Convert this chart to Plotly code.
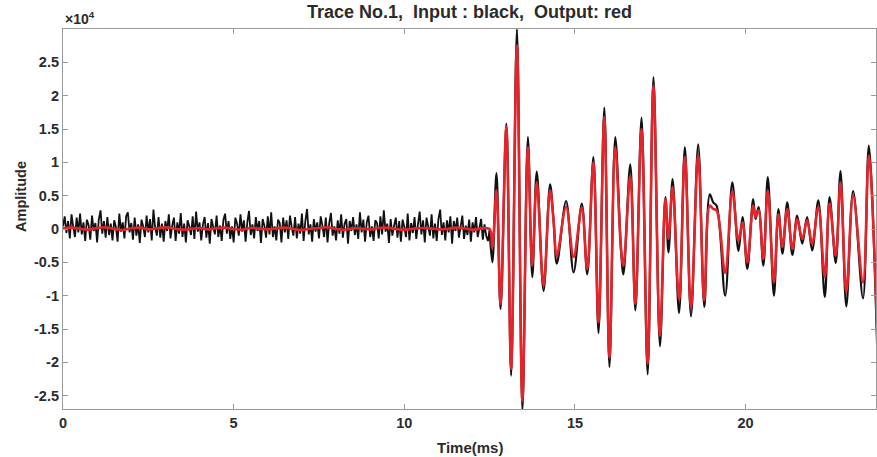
import plotly.graph_objects as go

# ---------------- data ----------------
# pre-onset sampling of the input (black) trace
noise_t0 = 0.0
noise_dt = 0.05
input_noise = [
    400, 1900, -600, 1200, -1400, 2200, 300, -1200, 1700, -500,
    2300, -800, 1000, -1800, 1400, 600, -1600, 2000, -300, 900,
    -2000, 1500, 2800, -700, 1200, -1300, 1800, -900, 800, -1700,
    1300, 300, -1900, 2300, -400, 1000, -1400, 1900, 2500, -500,
    900, -1600, 1700, -1000, 700, -2100, 1400, 400, -1200, 2000,
    -500, 1500, -1700, 2900, 200, -1000, 1800, -1300, 800, -1900,
    1200, -300, 2200, -1400, 500, 1700, -1800, 1000, -700, 2400,
    -1200, 800, -2000, 1300, 400, -900, 1900, -1500, 2600, -400,
    1000, -1700, 700, 1800, -1300, 900, -2200, 1500, 300, -800,
    2000, -1200, 500, -1800, 1400, 2300, -700, 1200, -1500, 400,
    -2000, 1700, 800, -1000, 2200, -400, 1300, -1900, 1000, 2700,
    -900, 700, -1400, 1800, -300, 1200, -2100, 1500, 500, -1300,
    1900, -800, 2500, -1200, 400, -1700, 1400, 900, -2000, 1700,
    -500, 1300, -1500, 2000, 300, -1000, 1800, -1400, 800, -700,
    2300, -1800, 1200, 3000, -800, 700, -1900, 1500, -400, 1000,
    -1400, 1900, 500, -1200, 1700, -2000, 900, 2400, -1000, 400,
    -1700, 1300, -700, 2200, -1300, 800, 1500, -2200, 1200, -300,
    1800, -900, 700, -1500, 2500, -500, 1400, -1900, 1000, 2000,
    -1200, 400, -1800, 1300, 900, -1400, 1900, -800, 2800, -400,
    800, -2100, 1500, -1000, 500, 1700, -1300, 1200, -1900, 1400,
    300, -1200, 2300, -1700, 900, -600, 1800, -1500, 700, 2600,
    -800, 1300, -2000, 1700, 400, -1000, 2200, -1400, 800, -1800,
    1500, 2900, -900, 1000, -1700, 1300, -500, 1900, -2200, 1200,
    -300, 1700, -1300, 800, 2000, -1500, 500, -900, 1400, -1900,
    1000, -500, 1800, -1200, 400, 1500, -1600, 700, -1000, -1800,
]

# pre-onset output (red) trace, coarser sampling
red_noise_dt = 0.25
output_noise = [
    100, 200, 50, -100, 150, 250, 0, -150, 100, 200,
    -50, 100, 250, 50, -100, 0, 150, -50, 100, 200,
    0, -100, 150, 50, -50, 100, 200, 0, -150, 50,
    150, 250, 0, -100, 100, 50, -50, 150, 200, 0,
    -100, 50, 150, 100, -50, 0, 200, 100, -100, 50,
]

# arrival: extrema of the wavelet train (time in ms)
wave_t = [
    12.50, 12.58, 12.70, 12.82, 12.99, 13.13, 13.30, 13.46, 13.62, 13.75,
    13.88, 14.08, 14.27, 14.37, 14.47, 14.74, 14.96, 15.20, 15.36, 15.54,
    15.69, 15.86, 16.01, 16.18, 16.35, 16.42, 16.62, 16.77, 16.95, 17.13,
    17.30, 17.49, 17.65, 17.74, 17.86, 18.05, 18.22, 18.40, 18.61, 18.79,
    18.95, 19.05, 19.15, 19.40, 19.61, 19.79, 19.91, 20.05, 20.22, 20.29,
    20.38, 20.52, 20.65, 20.83, 20.96, 21.08, 21.22, 21.37, 21.51, 21.66,
    21.80, 21.95, 22.13, 22.32, 22.46, 22.64, 22.78, 22.95, 23.15, 23.44,
    23.61, 23.86,
]
wave_output = [
    0, -2800, 5800, -11200, 15400, -21000, 27500, -25800, 12200, -5500,
    7000, -8500, 5800, 1500, -4000, 3300, -4200, 3200, -6000, 10000,
    -14000, 16800, -19300, 12200, -3000, -5500, 8000, -11200, 15000, -20200,
    21500, -16000, 4500, -1500, 6300, -10600, 10800, -11700, 11000, -10700,
    3500, 3000, 2800, -6600, 5700, -1800, 1000, -5000, 3500, 1800,
    2800, -4500, 5800, -8000, 2200, -2700, 3000, -3000, 1500, -1500,
    1300, -2200, 3300, -7200, 3800, -4000, 7000, -9500, 5000, -8000,
    11000, -16200,
]
wave_input = [
    -200, -5000, 8400, -12000, 15800, -22000, 30000, -27200, 13800, -7200,
    8600, -9300, 6700, 1500, -5200, 4200, -6500, 3800, -6800, 10800,
    -15600, 18200, -20700, 13800, -3200, -6800, 9700, -12200, 16700, -21800,
    22800, -17600, 4800, -3500, 7500, -12600, 12300, -13100, 12700, -11700,
    5200, 4000, 3500, -10000, 7000, -3300, 1800, -6000, 4500, 1500,
    3300, -5500, 7800, -10000, 3000, -3700, 4000, -3900, 2000, -2200,
    1800, -3200, 4300, -10200, 4800, -5100, 8700, -11600, 5700, -10400,
    12500, -18800,
]

x_ticks = [0, 5, 10, 15, 20]
y_ticks = [-25000, -20000, -15000, -10000, -5000, 0, 5000, 10000, 15000, 20000, 25000]
y_tick_text = ["-2.5", "-2", "-1.5", "-1", "-0.5", "0", "0.5", "1", "1.5", "2", "2.5"]

title_text = "Trace No.1,\u00a0 Input : black,\u00a0 Output: red"

# ---------------- figure ----------------
noise_times = [noise_t0 + i * noise_dt for i in range(len(input_noise))]
red_times = [noise_t0 + i * red_noise_dt for i in range(len(output_noise))]

FONT = "Liberation Sans, Arial, sans-serif"
TXT = "#2b2b2b"
AX = "#9a9a9a"

fig = go.Figure()
fig.add_trace(go.Scatter(
    x=noise_times + wave_t[:1], y=input_noise + wave_input[:1],
    mode="lines", line=dict(color="#111111", width=1.8),
    showlegend=False, hoverinfo="skip"))
fig.add_trace(go.Scatter(
    x=wave_t, y=wave_input, mode="lines",
    line=dict(color="#111111", width=2.2, shape="spline", smoothing=1.0),
    showlegend=False))
fig.add_trace(go.Scatter(
    x=red_times + wave_t, y=output_noise + wave_output, mode="lines",
    line=dict(color="#e3252b", width=2.6, shape="spline", smoothing=1.0),
    showlegend=False))

fig.update_layout(
    width=877, height=457,
    margin=dict(l=63, r=1, t=29, b=48),
    paper_bgcolor="white", plot_bgcolor="white",
    font=dict(family=FONT, color=TXT, size=14, weight="bold"),
    xaxis=dict(
        range=[0, 23.82], tickvals=x_ticks, ticks="inside", ticklen=5,
        tickcolor=AX, showline=True, linecolor=AX, linewidth=1.2,
        mirror="ticks", showgrid=False, zeroline=False,
        tickfont=dict(family=FONT, size=14.5, color=TXT, weight="bold"),
    ),
    yaxis=dict(
        range=[-27000, 30000], tickvals=y_ticks, ticktext=y_tick_text,
        ticks="inside", ticklen=5, tickcolor=AX, showline=True,
        linecolor=AX, linewidth=1.2, mirror="ticks", showgrid=False,
        zeroline=False,
        tickfont=dict(family=FONT, size=14.5, color=TXT, weight="bold"),
    ),
    annotations=[
        dict(text=title_text, xref="paper", yref="paper", x=0.5, y=1.045,
             xanchor="center", yanchor="middle", showarrow=False,
             font=dict(family=FONT, size=18, color=TXT, weight="bold")),
        dict(text="Time(ms)", xref="paper", yref="paper", x=0.5, y=-0.1,
             xanchor="center", yanchor="middle", showarrow=False,
             font=dict(family=FONT, size=15, color=TXT, weight="bold")),
        dict(text="Amplitude", xref="paper", yref="paper", x=-0.052, y=0.56,
             xanchor="center", yanchor="middle", showarrow=False, textangle=-90,
             font=dict(family=FONT, size=14.5, color=TXT, weight="bold")),
        dict(text="×10<sup>4</sup>", xref="paper", yref="paper", x=0.0, y=1.0,
             xanchor="left", yanchor="bottom", showarrow=False,
             font=dict(family=FONT, size=14, color=TXT)),
    ],
)

fig.write_html("out.html", config={"displayModeBar": False},
               post_script="document.body.style.margin='0';")
